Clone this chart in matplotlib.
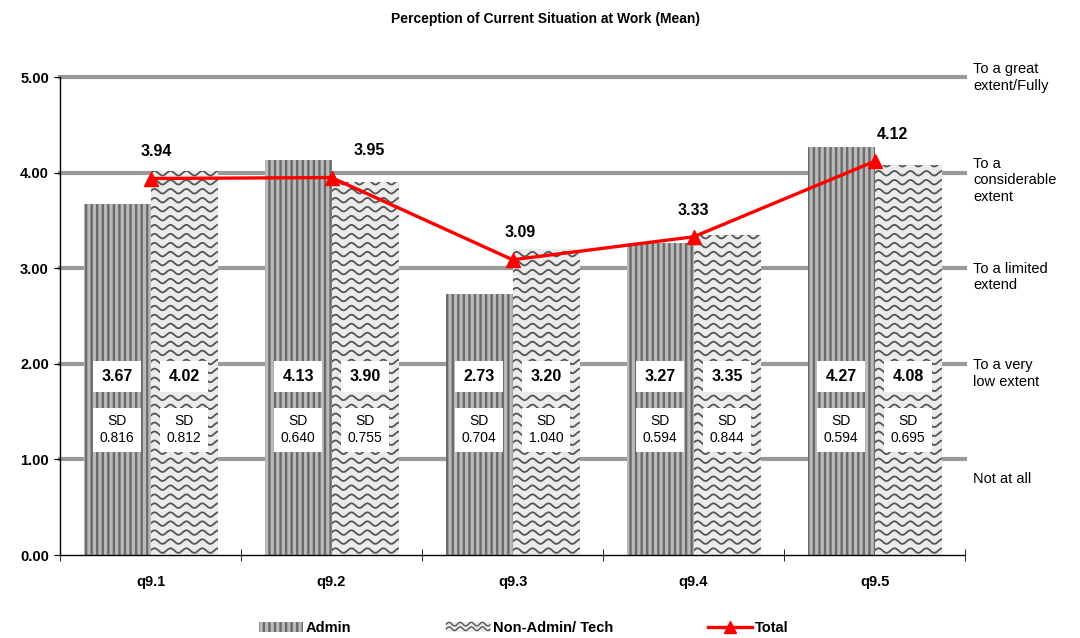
import numpy as np
import matplotlib
matplotlib.use("Agg")
import matplotlib.pyplot as plt
from matplotlib.patches import Rectangle
from matplotlib.lines import Line2D
from matplotlib.legend_handler import HandlerBase

plt.rcParams['font.family'] = ['Liberation Sans', 'DejaVu Sans']
plt.rcParams['hatch.linewidth'] = 1.7

# data
categories = ['q9.1', 'q9.2', 'q9.3', 'q9.4', 'q9.5']
admin = [3.67, 4.13, 2.73, 3.27, 4.27]
non_admin = [4.02, 3.90, 3.20, 3.35, 4.08]
total = [3.94, 3.95, 3.09, 3.33, 4.12]
sd_admin = ['0.816', '0.640', '0.704', '0.594', '0.594']
sd_non_admin = ['0.812', '0.755', '1.040', '0.844', '0.695']
scale_labels = ['Not at all', 'To a very\nlow extent', 'To a limited\nextend',
                'To a\nconsiderable\nextent', 'To a great\nextent/Fully']
yticks = [0, 1, 2, 3, 4, 5]

# style
stripe_bg = '#bababa'
stripe_fg = '#6a6a6a'
wave_bg = '#ebebeb'
wave_fg = '#555555'
grid_col = '#9a9a9a'
bar_w = 0.37
label_dx = [0.03, 0.21, 0.04, 0.0, 0.10]


def draw_waves(ax, x0, w, h, clip, period=0.088, dy=0.094, amp=0.024, lw=1.3):
    xs = np.linspace(x0, x0 + w, 200)
    for yk in np.arange(dy / 2, h + dy, dy):
        ys = yk + amp * np.sin(2 * np.pi * (xs - x0) / period)
        ln, = ax.plot(xs, ys, color=wave_fg, lw=lw, zorder=3)
        ln.set_clip_path(clip)


class WaveHandler(HandlerBase):
    def create_artists(self, legend, orig_handle, xdescent, ydescent,
                       width, height, fontsize, trans):
        x0, y0 = -xdescent, -ydescent
        rect = Rectangle((x0, y0), width, height, facecolor=wave_bg,
                         edgecolor='none', transform=trans)
        arts = [rect]
        xs = np.linspace(x0, x0 + width, 80)
        for frac in (0.3, 0.75):
            ys = y0 + height * frac + 1.3 * np.sin(2 * np.pi * (xs - x0) / 8.0)
            arts.append(Line2D(xs, ys, color=wave_fg, lw=1.0, transform=trans))
        return arts


fig = plt.figure(figsize=(10.8, 6.38), dpi=100)
ax = fig.add_axes([0.0556, 0.130, 0.838, 0.749])

x = np.arange(len(categories))

# gridlines
for yv in yticks[1:]:
    ax.axhline(yv, color=grid_col, lw=3, zorder=1, clip_on=False)

# admin bars (vertical stripes)
ax.bar(x - bar_w / 2, admin, width=bar_w, facecolor=stripe_bg,
       edgecolor=stripe_fg, hatch='|||', linewidth=0, zorder=2)

# non-admin bars (wavy pattern)
nb = ax.bar(x + bar_w / 2, non_admin, width=bar_w, facecolor=wave_bg,
            edgecolor='none', linewidth=0, zorder=2)
for p in nb:
    draw_waves(ax, p.get_x(), p.get_width(), p.get_height(), p)

# total line
ax.plot(x, total, color='#ff0000', lw=2.4, marker='^', markersize=10,
        zorder=5)
for i, v in enumerate(total):
    ax.text(x[i] + label_dx[i], v + 0.28, f'{v:.2f}', ha='center',
            va='center', fontsize=11.5, fontweight='bold', zorder=6)

# mean and SD boxes
for i in range(len(categories)):
    for xc, m, sd in ((x[i] - bar_w / 2, admin[i], sd_admin[i]),
                      (x[i] + bar_w / 2, non_admin[i], sd_non_admin[i])):
        ax.text(xc, 1.87, f'{m:.2f}', ha='center', va='center', fontsize=11.5,
                fontweight='bold',
                bbox=dict(facecolor='white', edgecolor='none', pad=6),
                zorder=6)
        ax.text(xc, 1.31, f'SD\n{sd}', ha='center', va='center', fontsize=10,
                linespacing=1.25,
                bbox=dict(facecolor='white', edgecolor='none', pad=5),
                zorder=6)

# right side scale labels
scale_y = [0.80, 1.90, 2.91, 3.92, 5.0]
for yv, lab in zip(scale_y, scale_labels):
    ax.text(1.009, yv / 5.0, lab, transform=ax.transAxes, ha='left',
            va='center', fontsize=10.5, linespacing=1.25)

ax.set_xlim(-0.5, 4.5)
ax.set_ylim(0, 5)
ax.set_yticks(yticks)
ax.set_yticklabels([f'{t:.2f}' for t in yticks], fontsize=10.5,
                   fontweight='bold')
ax.set_xticks(x)
ax.set_xticklabels(categories, fontsize=10.5, fontweight='bold')
ax.tick_params(axis='x', length=0, pad=14)
ax.set_xticks(np.arange(-0.5, 5.0, 1.0), minor=True)
ax.tick_params(axis='x', which='minor', direction='inout', length=8,
               color='black')
ax.tick_params(axis='y', direction='out', length=4, pad=4)

for s in ('top', 'right'):
    ax.spines[s].set_visible(False)
ax.spines['left'].set_linewidth(1.0)
ax.spines['bottom'].set_linewidth(1.0)

fig.text(0.505, 0.970, 'Perception of Current Situation at Work (Mean)',
         ha='center', va='center', fontsize=10, fontweight='bold')

# legend
h_admin = Rectangle((0, 0), 1, 1, facecolor=stripe_bg, edgecolor=stripe_fg,
                    hatch='|||', linewidth=0)
h_non = Rectangle((0, 0), 1, 1, facecolor=wave_bg)
h_tot = Line2D([], [], color='#ff0000', lw=2.4, marker='^', markersize=9)
leg = fig.legend([h_admin, h_non, h_tot], ['Admin', 'Non-Admin/ Tech', 'Total'],
                 loc='center', bbox_to_anchor=(0.485, 0.016), ncol=3,
                 frameon=False, handlelength=3.0, handletextpad=0.2,
                 columnspacing=6.5, handler_map={h_non: WaveHandler()},
                 prop=dict(weight='bold', size=10.5))

fig.savefig('out.png', dpi=100)
